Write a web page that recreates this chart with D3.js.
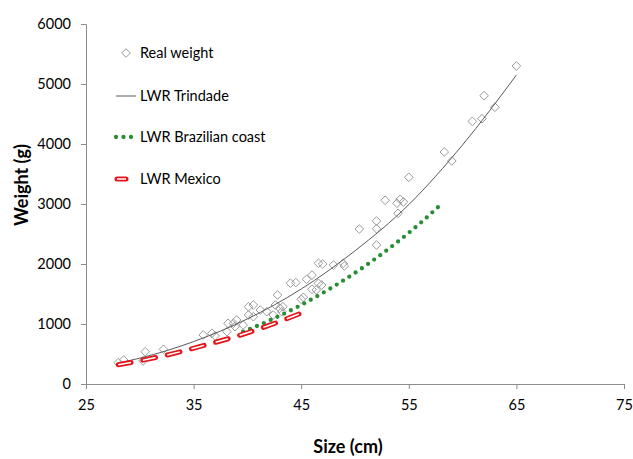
<!DOCTYPE html>
<html>
<head>
<meta charset="utf-8">
<script src="https://cdn.jsdelivr.net/npm/d3@7"></script>
<style>
    body { margin: 0; background: #fff; }
    text { font-family: Lato, 'Liberation Sans', sans-serif; fill: #000; }
</style>
</head>
<body>
<div id="chart"></div>
<script>
// observed fish: size (cm) and weight (g)
const realSize = [28.0, 28.5, 30.3, 30.5, 32.2, 35.9, 36.7, 37.0, 38.1, 38.2, 38.7, 38.85, 39.0, 39.6,
    40.1, 40.55, 40.1, 40.55, 41.2, 41.8, 42.4, 42.6, 43.0, 43.3, 43.2, 42.8, 44.0, 44.5, 45.0, 45.2,
    45.5, 46.0, 46.0, 46.4, 46.6, 46.9, 46.6, 47.0, 48.0, 48.9, 49.0, 50.4, 52.0, 52.0, 52.0, 52.8,
    53.9, 54.2, 54.5, 54.0, 55.0, 58.3, 59.0, 60.9, 61.8, 62.0, 63.0, 65.0];
const realWeight = [355, 400, 385, 538, 578, 817, 845, 800, 872, 1012, 1012, 955, 1067, 983,
    1150, 1122, 1288, 1317, 1233, 1205, 1150, 1317, 1262, 1288, 1205, 1483, 1680, 1690, 1412, 1445,
    1745, 1815, 1578, 1567, 1678, 1650, 2012, 2000, 1983, 2012, 1967, 2583, 2717, 2588, 2317, 3062,
    3012, 3078, 3033, 2845, 3445, 3867, 3717, 4378, 4422, 4805, 4612, 5300];

// fitted length-weight curves
const trindadeSize = [28, 30, 35, 40, 45, 50, 55, 60, 65];
const trindadeWeight = [350, 431, 707, 1085, 1583, 2220, 2990, 3986, 5150];

const brazilSize = [39.6, 42, 45, 48, 51, 54, 56, 58];
const brazilWeight = [872, 1054, 1318, 1623, 1974, 2375, 2671, 2995];

const mexicoSize = [28, 30, 33, 36, 39, 42, 45.5];
const mexicoWeight = [320, 387, 503, 645, 796, 976, 1217];

const xTicks = [25, 35, 45, 55, 65, 75];
const yTicks = [0, 1000, 2000, 3000, 4000, 5000, 6000];

var width = 633;
var height = 459;
var axisColor = '#8c8c8c';

var svg = d3
    .select('#chart')
    .append('svg')
    .attr('width', width)
    .attr('height', height);

var x = d3.scaleLinear().domain([25, 75]).range([86, 624]);
var y = d3.scaleLinear().domain([0, 6000]).range([384, 24]);

// axes
var xAxis = svg.append('g')
    .attr('transform', 'translate(0,' + y(0) + ')')
    .call(d3.axisBottom(x).tickValues(xTicks).tickFormat(d3.format('d'))
        .tickSizeOuter(0).tickSize(5).tickPadding(11));
var yAxis = svg.append('g')
    .attr('transform', 'translate(' + x(25) + ',0)')
    .call(d3.axisLeft(y).tickValues(yTicks).tickFormat(d3.format('d'))
        .tickSizeOuter(0).tickSize(5).tickPadding(10));

[xAxis, yAxis].forEach(g => {
    g.select('.domain').attr('stroke', axisColor);
    g.selectAll('.tick line').attr('stroke', axisColor);
    g.selectAll('.tick text')
        .style('font-size', '14.5px')
        .style('font-family', 'Lato, sans-serif')
        .attr('fill', '#000');
});

// real weight diamonds
var diamond = d3.symbol().type(d3.symbolDiamond2).size(48);
svg.append('g')
    .selectAll('path')
    .data(d3.range(realSize.length))
    .join('path')
    .attr('d', diamond)
    .attr('transform', i => 'translate(' + x(realSize[i]) + ',' + y(realWeight[i]) + ')')
    .attr('fill', 'none')
    .attr('stroke', '#9a9a9a')
    .attr('stroke-width', 1);

var line = d3.line()
    .x(d => x(d[0]))
    .y(d => y(d[1]))
    .curve(d3.curveMonotoneX);

// LWR Trindade
svg.append('path')
    .attr('d', line(d3.zip(trindadeSize, trindadeWeight)))
    .attr('fill', 'none')
    .attr('stroke', '#5a5a5a')
    .attr('stroke-width', 1);

// LWR Brazilian coast
svg.append('path')
    .attr('d', line(d3.zip(brazilSize, brazilWeight)))
    .attr('fill', 'none')
    .attr('stroke', '#2a8c34')
    .attr('stroke-width', 4.3)
    .attr('stroke-linecap', 'round')
    .attr('stroke-dasharray', '0,7.5');

// LWR Mexico: red rounded dashes with a white core
var mexicoPath = line(d3.zip(mexicoSize, mexicoWeight));
svg.append('path')
    .attr('d', mexicoPath)
    .attr('fill', 'none')
    .attr('stroke', '#e3161c')
    .attr('stroke-width', 5)
    .attr('stroke-linecap', 'round')
    .attr('stroke-dasharray', '13,12');
svg.append('path')
    .attr('d', mexicoPath)
    .attr('fill', 'none')
    .attr('stroke', '#fff')
    .attr('stroke-width', 1.5)
    .attr('stroke-dasharray', '13,12');

// legend
var legend = svg.append('g');
var legendY = [53, 96, 137, 179];
var legendLabels = ['Real weight', 'LWR Trindade', 'LWR Brazilian coast', 'LWR Mexico'];

legend.append('path')
    .attr('d', diamond)
    .attr('transform', 'translate(126,' + legendY[0] + ')')
    .attr('fill', 'none')
    .attr('stroke', '#9a9a9a');
legend.append('line')
    .attr('x1', 116).attr('x2', 136)
    .attr('y1', legendY[1]).attr('y2', legendY[1])
    .attr('stroke', '#5a5a5a');
legend.append('line')
    .attr('x1', 116).attr('x2', 135)
    .attr('y1', legendY[2]).attr('y2', legendY[2])
    .attr('stroke', '#2a8c34')
    .attr('stroke-width', 4.3)
    .attr('stroke-linecap', 'round')
    .attr('stroke-dasharray', '0,7.5');
legend.append('line')
    .attr('x1', 117).attr('x2', 126)
    .attr('y1', legendY[3]).attr('y2', legendY[3])
    .attr('stroke', '#e3161c')
    .attr('stroke-width', 5)
    .attr('stroke-linecap', 'round');
legend.append('line')
    .attr('x1', 117).attr('x2', 126)
    .attr('y1', legendY[3]).attr('y2', legendY[3])
    .attr('stroke', '#fff')
    .attr('stroke-width', 1.5);

legend.selectAll('text')
    .data(legendLabels)
    .join('text')
    .attr('x', 140)
    .attr('y', (d, i) => legendY[i])
    .attr('dy', '0.35em')
    .style('font-size', '14.5px')
    .text(d => d);

// axis titles
svg.append('text')
    .attr('transform', 'translate(28,185) rotate(-90)')
    .attr('text-anchor', 'middle')
    .style('font-size', '18px')
    .style('font-weight', 'bold')
    .text('Weight (g)');
svg.append('text')
    .attr('x', 348)
    .attr('y', 453)
    .attr('text-anchor', 'middle')
    .style('font-size', '18px')
    .style('font-weight', 'bold')
    .text('Size (cm)');
</script>
</body>
</html>
